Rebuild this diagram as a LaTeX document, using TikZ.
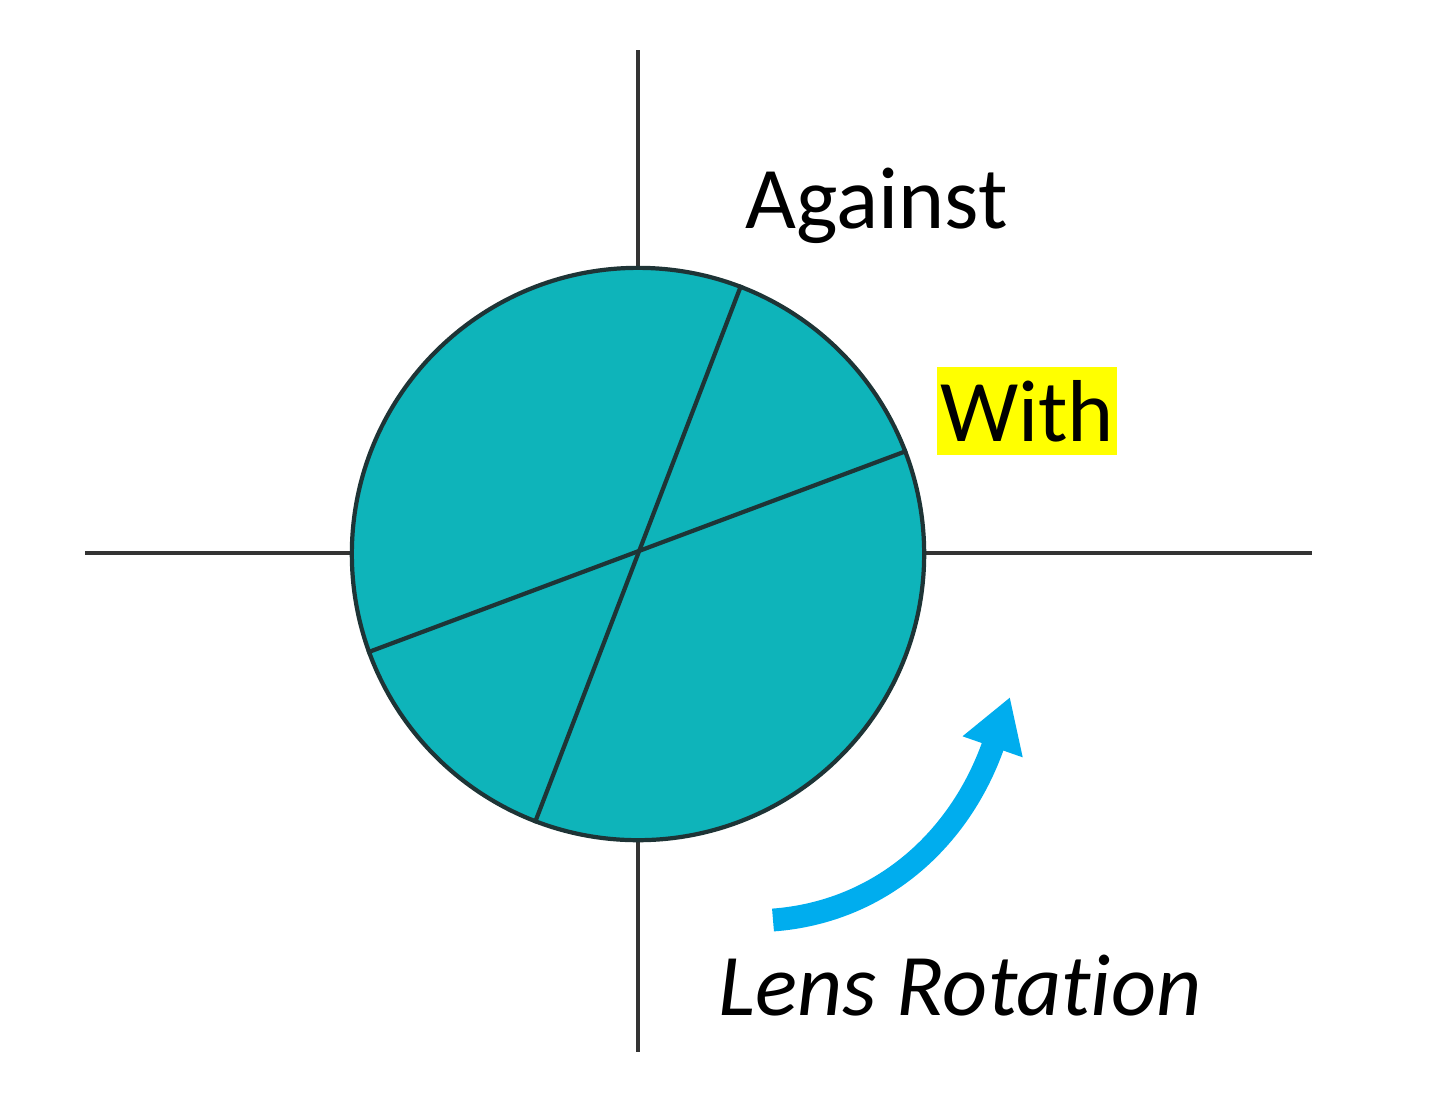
\documentclass[tikz,border=0pt]{standalone}
\usepackage{fontspec}
\setmainfont{Carlito}[Ligatures=NoCommon]
\usetikzlibrary{arrows.meta}
\definecolor{lensfill}{HTML}{0EB4BA}
\definecolor{lensline}{HTML}{1E3436}
\definecolor{axisgray}{HTML}{333333}
\definecolor{arrowblue}{HTML}{00ADEE}
\definecolor{hl}{HTML}{FFFF00}
\tikzset{
  axis/.style={draw=axisgray, line width=1.2pt},
  lensbody/.style={circle, draw=lensline, fill=lensfill, line width=1.2pt, minimum size=5.72cm, inner sep=0pt},
  chord/.style={draw=lensline, line width=1.2pt},
  lbl/.style={font=\fontsize{25}{30}\selectfont, inner sep=0pt, text=black},
  rotarrow/.style={draw=arrowblue, line width=6.5pt, -{Triangle[length=15pt, width=17pt, fill=arrowblue]}}
}
\begin{document}
\begin{tikzpicture}[x=0.01cm, y=-0.01cm]
\useasboundingbox (0,0) rectangle (1440,1099);
% axes
\coordinate (vt) at (638,50);
\coordinate (vb) at (638,1052);
\coordinate (hl) at (85,553);
\coordinate (hr) at (1312,553);
\draw[axis] (vt) -- (vb);
\draw[axis] (hl) -- (hr);
% lens
\node[lensbody] (lens) at (638,554) {};
\draw[chord] (lens.69.5) -- (lens.249.5);
\draw[chord] (lens.21.5) -- (lens.200.5);
% labels
\node[lbl, anchor=base west] (against) at (745,228) {Against};
\node[lbl, fill=hl, minimum width=1.79cm, minimum height=0.87cm] (with) at (1027,411) {With};
\node[lbl, anchor=base west, font=\fontsize{25}{30}\selectfont\itshape] (rot) at (718,1015) {Lens Rota\kern0pt tion};
% rotation arrow
\coordinate (as) at (773,920);
\coordinate (ae) at (1010,697);
\draw[rotarrow] (as) .. controls (880,912) and (960,840) .. (ae);
\end{tikzpicture}
\end{document}
